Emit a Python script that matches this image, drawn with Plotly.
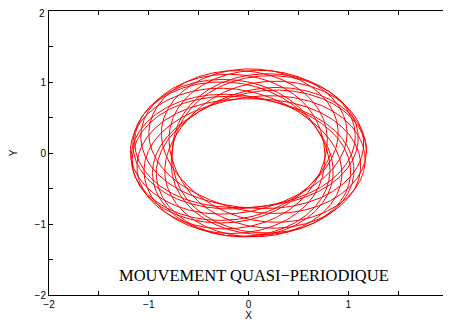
import numpy as np
import plotly.graph_objects as go

# torus flow parameters
radius_major = [0.975]
radius_minor = [0.21]
freq_ratio = [np.sqrt(2)]
n_turns = [16]

tick_vals = [-2, -1.5, -1, -0.5, 0, 0.5, 1, 1.5, 2]
# end labels drawn separately so they are not dropped at the page edge
x_tick_text = ["\u22122", "", "\u22121", "", "0", "", "1", "", ""]
y_tick_text = ["\u22122", "", "\u22121", "", "0", "", "1", "", ""]

t = np.linspace(0, 2 * np.pi * n_turns[0], 8000)
rad = radius_major[0] + radius_minor[0] * np.cos(freq_ratio[0] * t)
x = rad * np.cos(t)
y = rad * np.sin(t)

fig = go.Figure()
fig.add_trace(go.Scatter(x=x, y=y, mode="lines",
                         line=dict(color="red", width=1), showlegend=False))

tick_font = dict(family="Liberation Sans", size=10, color="black")
axis = dict(range=[-2, 2], tickvals=tick_vals,
            ticks="inside", ticklen=4, tickcolor="black", tickwidth=1,
            showline=True, linecolor="black", linewidth=1, mirror="ticks",
            showgrid=False, zeroline=False, automargin=False,
            ticklabeloverflow="allow", tickfont=tick_font)

fig.update_layout(
    width=443, height=314,
    margin=dict(l=41, r=3, t=3, b=27),
    paper_bgcolor="white", plot_bgcolor="white",
    xaxis=dict(axis, ticktext=x_tick_text,
               title=dict(text="X", standoff=0,
                          font=dict(family="Liberation Sans", size=10, color="black"))),
    yaxis=dict(axis, ticktext=y_tick_text,
               title=dict(text="Y", standoff=16,
                          font=dict(family="Liberation Sans", size=10, color="black"))),
    annotations=[
        dict(x=-1.32, y=-1.73, xref="x", yref="y", xanchor="left",
             text="MOUVEMENT QUASI\u2212PERIODIQUE", showarrow=False,
             font=dict(family="Liberation Serif", size=16.5, color="black")),
        dict(x=0, y=2, xref="paper", yref="y", xanchor="right", yanchor="middle",
             xshift=-2, yshift=-2, text="2", showarrow=False, font=tick_font),
        dict(x=2, y=0, xref="x", yref="paper", xanchor="center", yanchor="middle",
             yshift=-9, text="2", showarrow=False, font=tick_font),
    ],
)

fig.write_html("out.html")
